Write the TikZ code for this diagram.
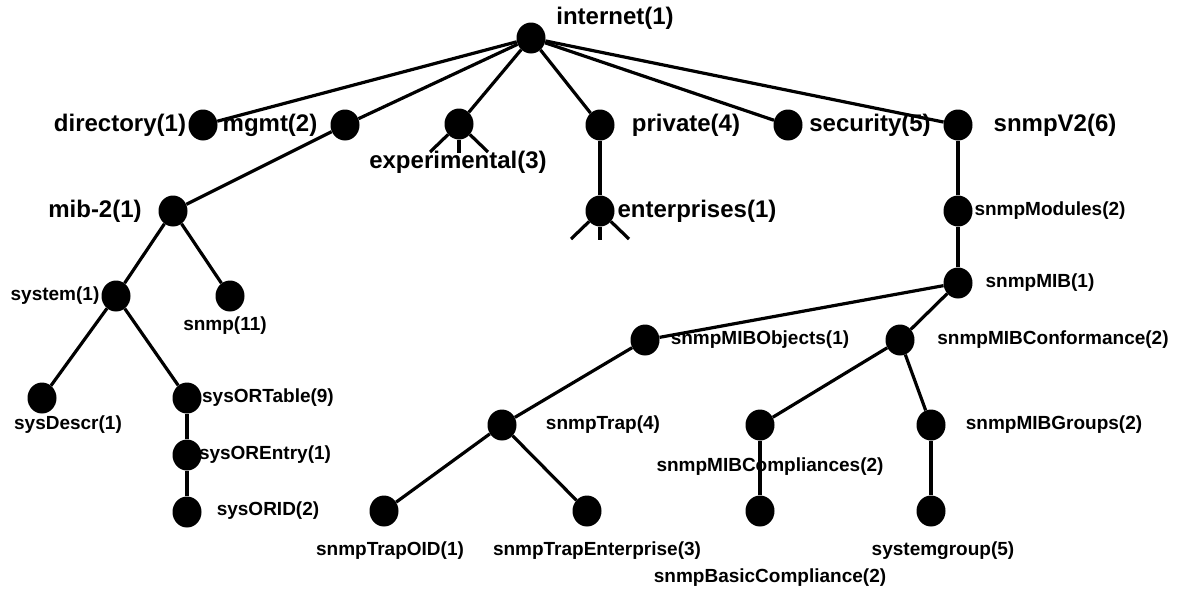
\documentclass[tikz,border=0pt]{standalone}
\usepackage{fontspec}
\setmainfont{Liberation Sans}
\usetikzlibrary{shapes.geometric}
\begin{document}
\begin{tikzpicture}[x=1pt,y=1pt,yscale=-1,
  dot/.style={ellipse,fill=black,inner sep=0pt,minimum width=29pt,minimum height=31pt},
  big/.style={font=\fontsize{24}{28}\selectfont\bfseries,inner sep=0pt},
  small/.style={font=\fontsize{19}{22}\selectfont\bfseries,inner sep=0pt},
  ln/.style={line width=3.2pt}]
\useasboundingbox (0,0) rectangle (1185,595);

% Dots
\node [dot] (internet) at (531,38) {};
\node [dot] (directory) at (203,125) {};
\node [dot] (mgmt) at (345,125) {};
\node [dot] (experimental) at (459,124) {};
\node [dot] (private) at (600,125) {};
\node [dot] (security) at (788,125) {};
\node [dot] (snmpV2) at (958,125) {};
\node [dot] (mib2) at (173,211) {};
\node [dot] (enterprises) at (600,211) {};
\node [dot] (snmpModules) at (958,211) {};
\node [dot] (system) at (116,296) {};
\node [dot] (snmp) at (230,296) {};
\node [dot] (snmpMIB) at (958,283) {};
\node [dot] (snmpMIBObjects) at (645,340) {};
\node [dot] (snmpMIBConformance) at (900,340) {};
\node [dot] (sysDescr) at (42,398) {};
\node [dot] (sysORTable) at (187,398) {};
\node [dot] (sysOREntry) at (187,455) {};
\node [dot] (sysORID) at (187,512) {};
\node [dot] (snmpTrap) at (502,425) {};
\node [dot] (snmpMIBCompliances) at (760,425) {};
\node [dot] (snmpMIBGroups) at (931,425) {};
\node [dot] (snmpTrapOID) at (384,511) {};
\node [dot] (snmpTrapEnterprise) at (587,511) {};
\node [dot] (snmpBasicCompliance) at (760,511) {};
\node [dot] (systemgroup) at (931,511) {};

% Stub ends
\coordinate (exp-l) at (430,152);
\coordinate (exp-m) at (459,153);
\coordinate (exp-r) at (488,152);
\coordinate (ent-l) at (571,239);
\coordinate (ent-m) at (600,240);
\coordinate (ent-r) at (629,239);

% Straight Lines
\draw [ln] (internet) -- (directory);
\draw [ln] (internet) -- (mgmt);
\draw [ln] (internet) -- (experimental);
\draw [ln] (internet) -- (private);
\draw [ln] (internet) -- (security);
\draw [ln] (internet) -- (snmpV2);
\draw [ln] (mgmt) -- (mib2);
\draw [ln] (mib2) -- (system);
\draw [ln] (mib2) -- (snmp);
\draw [ln] (system) -- (sysDescr);
\draw [ln] (system) -- (sysORTable);
\draw [ln] (sysORTable) -- (sysOREntry);
\draw [ln] (sysOREntry) -- (sysORID);
\draw [ln] (private) -- (enterprises);
\draw [ln] (snmpV2) -- (snmpModules);
\draw [ln] (snmpModules) -- (snmpMIB);
\draw [ln] (snmpMIB) -- (snmpMIBObjects);
\draw [ln] (snmpMIB) -- (snmpMIBConformance);
\draw [ln] (snmpMIBObjects) -- (snmpTrap);
\draw [ln] (snmpTrap) -- (snmpTrapOID);
\draw [ln] (snmpTrap) -- (snmpTrapEnterprise);
\draw [ln] (snmpMIBConformance) -- (snmpMIBCompliances);
\draw [ln] (snmpMIBConformance) -- (snmpMIBGroups);
\draw [ln] (snmpMIBCompliances) -- (snmpBasicCompliance);
\draw [ln] (snmpMIBGroups) -- (systemgroup);
\draw [ln] (experimental) -- (exp-l);
\draw [ln] (experimental) -- (exp-m);
\draw [ln] (experimental) -- (exp-r);
\draw [ln] (enterprises) -- (ent-l);
\draw [ln] (enterprises) -- (ent-m);
\draw [ln] (enterprises) -- (ent-r);

% Text Nodes
\node [big] (internet-t) at (615,18) {internet(1)};
\node [big] (directory-t) at (120,125) {directory(1)};
\node [big] (mgmt-t) at (270,125) {mgmt(2)};
\node [big] (experimental-t) at (458,162) {experimental(3)};
\node [big] (private-t) at (686,125) {private(4)};
\node [big] (security-t) at (870,125) {security(5)};
\node [big] (snmpV2-t) at (1055,125) {snmpV2(6)};
\node [big] (mib2-t) at (95,211) {mib-2(1)};
\node [big] (enterprises-t) at (697,211) {enterprises(1)};
\node [small] (snmpModules-t) at (1050,211) {snmpModules(2)};
\node [small] (system-t) at (55,296) {system(1)};
\node [small] (snmp-t) at (225,326) {snmp(11)};
\node [small] (snmpMIB-t) at (1040,283) {snmpMIB(1)};
\node [small] (snmpMIBObjects-t) at (760,340) {snmpMIBObjects(1)};
\node [small] (snmpMIBConformance-t) at (1053,340) {snmpMIBConformance(2)};
\node [small] (sysDescr-t) at (68,425) {sysDescr(1)};
\node [small] (sysORTable-t) at (268,398) {sysORTable(9)};
\node [small] (sysOREntry-t) at (265,455) {sysOREntry(1)};
\node [small] (sysORID-t) at (268,511) {sysORID(2)};
\node [small] (snmpTrap-t) at (603,425) {snmpTrap(4)};
\node [small] (snmpMIBCompliances-t) at (770,467) {snmpMIBCompliances(2)};
\node [small] (snmpMIBGroups-t) at (1054,425) {snmpMIBGroups(2)};
\node [small] (snmpTrapOID-t) at (390,551) {snmpTrapOID(1)};
\node [small] (snmpTrapEnterprise-t) at (597,551) {snmpTrapEnterprise(3)};
\node [small] (snmpBasicCompliance-t) at (770,578) {snmpBasicCompliance(2)};
\node [small] (systemgroup-t) at (943,551) {systemgroup(5)};

\end{tikzpicture}
\end{document}
